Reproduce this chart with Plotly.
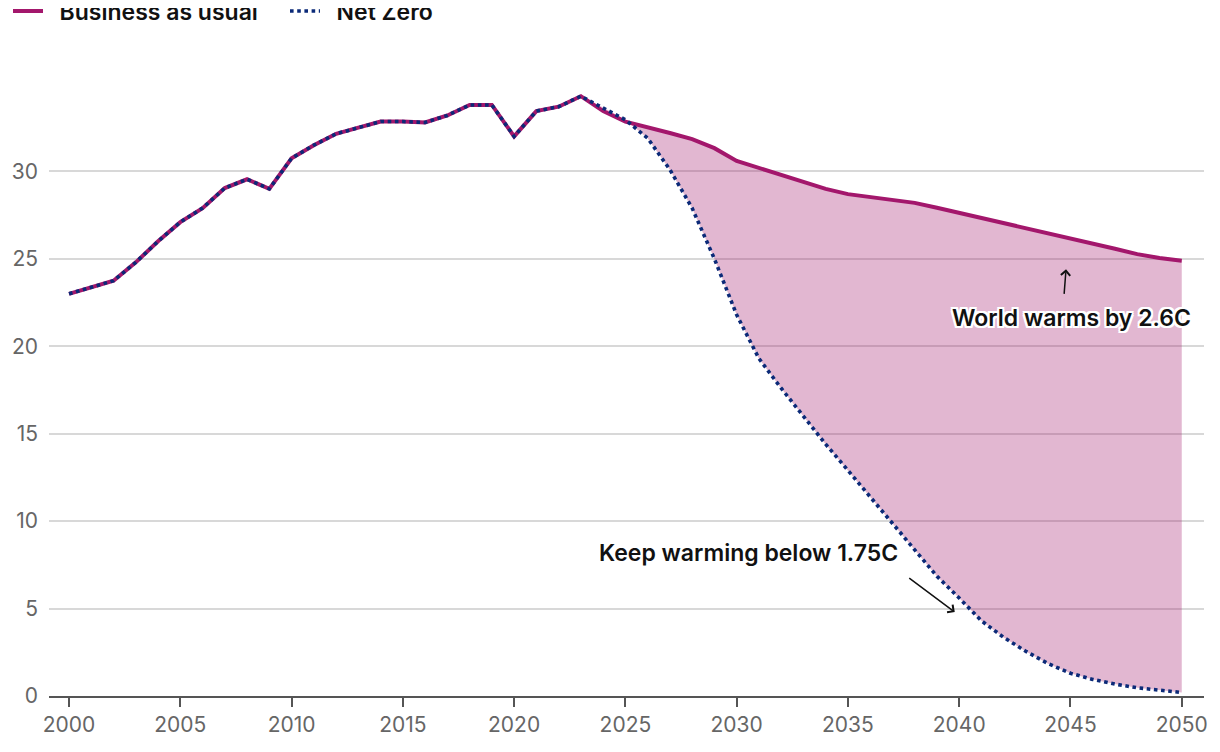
import plotly.graph_objects as go

years = list(range(2000, 2051))

# 2000-2023 shared history
historical = [23.0, 23.35, 23.75, 24.8, 26.0, 27.1, 27.9, 29.05, 29.55, 29.0,
              30.75, 31.5, 32.15, 32.5, 32.85, 32.85, 32.8, 33.2, 33.8, 33.8,
              32.0, 33.45, 33.7, 34.3]
# 2024-2050 projections
bau_future = [33.45, 32.85, 32.55, 32.2, 31.85, 31.33, 30.6, 30.2, 29.8, 29.35,
              29.0, 28.7, 28.52, 28.37, 28.2, 27.92, 27.63, 27.35, 27.07, 26.77,
              26.47, 26.18, 25.88, 25.58, 25.27, 25.05, 24.89]
nz_future = [33.65, 32.95, 31.9, 30.1, 27.9, 25.0, 21.8, 19.3, 17.6, 16.0,
             14.4, 12.9, 11.4, 9.9, 8.4, 6.85, 5.6, 4.3, 3.35, 2.55,
             1.85, 1.3, 0.95, 0.68, 0.47, 0.33, 0.2]

bau = historical + bau_future
net_zero = historical + nz_future

x_ticks = list(range(2000, 2051, 5))
y_ticks = [0, 5, 10, 15, 20, 25, 30]

BAU_COLOR = "#a3176c"
NZ_COLOR = "#0b2a78"
FILL_COLOR = "rgba(163,23,108,0.31)"
FONT = "Inter"
PAD = "\u00a0\u00a0"

fig = go.Figure()

# shaded gap between scenarios
fill_start = 23
fig.add_trace(go.Scatter(x=years[fill_start:], y=net_zero[fill_start:], mode="lines",
                         line=dict(width=0), hoverinfo="skip", showlegend=False))
fig.add_trace(go.Scatter(x=years[fill_start:], y=bau[fill_start:], mode="lines",
                         line=dict(width=0), fill="tonexty", fillcolor=FILL_COLOR,
                         hoverinfo="skip", showlegend=False))

fig.add_trace(go.Scatter(x=years, y=bau, mode="lines", name=PAD + "Business as usual",
                         line=dict(color=BAU_COLOR, width=4)))
fig.add_trace(go.Scatter(x=years, y=net_zero, mode="lines", name=PAD + "Net Zero",
                         line=dict(color=NZ_COLOR, width=3.6, dash="dot")))

halo = ("white 2px 0px 0px, white -2px 0px 0px, white 0px 2px 0px, white 0px -2px 0px, "
        "white 2px 2px 0px, white -2px -2px 0px, white 2px -2px 0px, white -2px 2px 0px")

fig.add_annotation(x=2044.8, y=24.4, ax=-2, ay=26, xref="x", yref="y",
                   axref="pixel", ayref="pixel", text="", showarrow=True,
                   arrowhead=4, arrowsize=1.2, arrowwidth=1.5, arrowcolor="#111")
fig.add_annotation(x=2045.05, y=21.6, xref="x", yref="y", text="World warms by 2.6C",
                   showarrow=False,
                   font=dict(family=FONT, size=23, color="#111", weight=600, shadow=halo))
fig.add_annotation(x=2039.8, y=4.8, ax=-47, ay=-35, xref="x", yref="y",
                   axref="pixel", ayref="pixel", text="", showarrow=True,
                   arrowhead=4, arrowsize=1.2, arrowwidth=1.5, arrowcolor="#111")
fig.add_annotation(x=2030.55, y=8.15, xref="x", yref="y", text="Keep warming below 1.75C",
                   showarrow=False,
                   font=dict(family=FONT, size=23, color="#111", weight=600))

fig.update_layout(
    width=1212, height=744,
    margin=dict(l=41, r=16, t=41, b=56, autoexpand=False),
    paper_bgcolor="white", plot_bgcolor="white",
    font=dict(family=FONT, size=20, color="#666"),
    showlegend=True,
    legend=dict(orientation="h", xref="container", yref="container",
                x=0.0, y=0.996, xanchor="left", yanchor="middle",
                traceorder="normal", entrywidth=232, entrywidthmode="pixels",
                font=dict(family=FONT, size=23, color="#111", weight=600),
                itemwidth=30, bgcolor="rgba(0,0,0,0)"),
    xaxis=dict(range=[1999.1, 2051], tickvals=x_ticks, showgrid=False,
               showline=True, linecolor="#555", linewidth=2,
               ticks="outside", ticklen=9, tickwidth=2, tickcolor="#555",
               tickfont=dict(family=FONT, size=21, color="#666"), zeroline=False,
               fixedrange=True),
    yaxis=dict(range=[0, 37], tickvals=y_ticks, showgrid=True, gridcolor="#d8d8d8",
               gridwidth=1.5, zeroline=False, showline=False, ticks="",
               ticklabelstandoff=10,
               tickfont=dict(family=FONT, size=21, color="#666"), fixedrange=True),
)

fig.write_html("out.html")
